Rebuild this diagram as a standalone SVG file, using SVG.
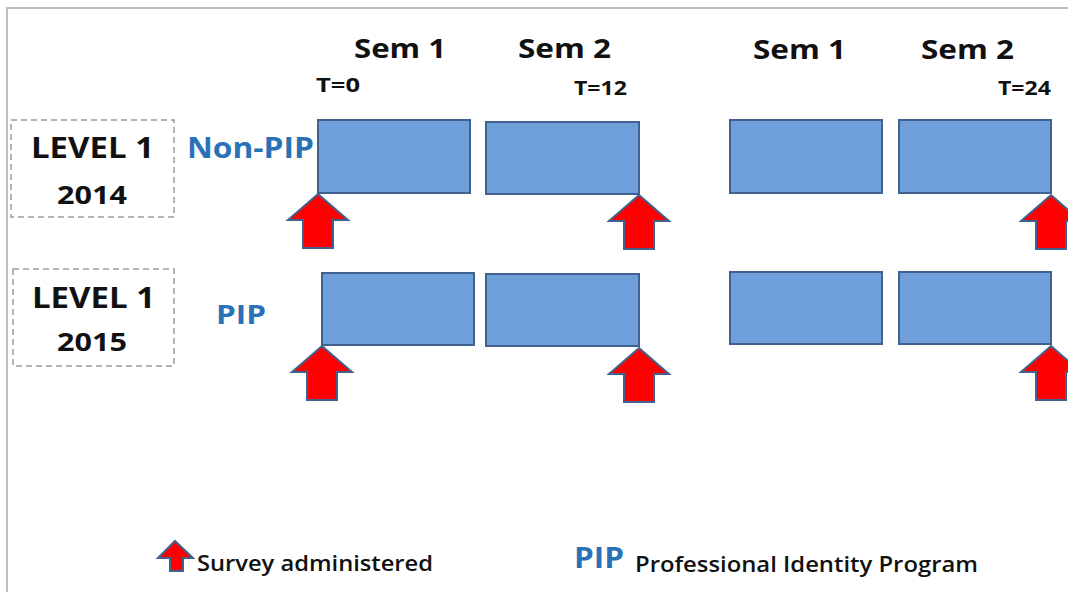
<svg xmlns="http://www.w3.org/2000/svg" xmlns:xlink="http://www.w3.org/1999/xlink" width="1068" height="592" viewBox="0 0 1068 592">
<style>
.sem{fill:#6e9fda;stroke:#41628f;stroke-width:2}
.arr{fill:#ff0000;stroke:#41628f;stroke-width:2;stroke-linejoin:miter}
.dash{fill:none;stroke:#9a9a9a;stroke-width:1.5;stroke-dasharray:6 4}
.t{font-family:"Open Sans","Liberation Sans",sans-serif;font-weight:bold;fill:#111}
.l{font-family:"Open Sans","Liberation Sans",sans-serif;font-weight:600;fill:#111}
.b{font-family:"Open Sans","Liberation Sans",sans-serif;font-weight:bold;fill:#2a72b8}
</style>
<defs>
<path id="up" d="M0,0 L30,26 L15,26 L15,54 L-15,54 L-15,26 L-30,26 Z"/>
</defs>
<rect x="0" y="0" width="1068" height="592" fill="#ffffff"/>
<path d="M7,592 L7,8 L1068,8" fill="none" stroke="#bdbdbd" stroke-width="2"/>

<g id="header">
<text class="t" x="354" y="58" font-size="27" textLength="92" lengthAdjust="spacingAndGlyphs">Sem 1</text>
<text class="t" x="518" y="58" font-size="27" textLength="93" lengthAdjust="spacingAndGlyphs">Sem 2</text>
<text class="t" x="753" y="59" font-size="27" textLength="93" lengthAdjust="spacingAndGlyphs">Sem 1</text>
<text class="t" x="921" y="59" font-size="27" textLength="93" lengthAdjust="spacingAndGlyphs">Sem 2</text>
<text class="t" x="316" y="92" font-size="19" textLength="44" lengthAdjust="spacingAndGlyphs">T=0</text>
<text class="t" x="574" y="95" font-size="19" textLength="53" lengthAdjust="spacingAndGlyphs">T=12</text>
<text class="t" x="998" y="95" font-size="19" textLength="53" lengthAdjust="spacingAndGlyphs">T=24</text>
</g>

<g id="level2014">
<rect class="dash" x="11" y="120" width="163" height="97"/>
<text class="t" x="31" y="158" font-size="28" textLength="123" lengthAdjust="spacingAndGlyphs">LEVEL 1</text>
<text class="t" x="57" y="204" font-size="25" textLength="70" lengthAdjust="spacingAndGlyphs">2014</text>
</g>
<g id="level2015">
<rect class="dash" x="13" y="269" width="161" height="97"/>
<text class="t" x="32" y="308" font-size="28" textLength="123" lengthAdjust="spacingAndGlyphs">LEVEL 1</text>
<text class="t" x="57" y="351" font-size="25" textLength="70" lengthAdjust="spacingAndGlyphs">2015</text>
</g>

<g id="label-nonpip"><text class="b" x="187" y="158" font-size="29" textLength="127" lengthAdjust="spacingAndGlyphs">Non-PIP</text></g>
<g id="label-pip"><text class="b" x="216" y="324" font-size="27" textLength="50" lengthAdjust="spacingAndGlyphs">PIP</text></g>

<g id="row1">
<rect id="r1s1" class="sem" x="318" y="120" width="152" height="73"/>
<rect id="r1s2" class="sem" x="486" y="122" width="153" height="72"/>
<rect id="r1s3" class="sem" x="730" y="120" width="152" height="73"/>
<rect id="r1s4" class="sem" x="899" y="120" width="152" height="73"/>
</g>
<g id="row2">
<rect id="r2s1" class="sem" x="322" y="273" width="152" height="72"/>
<rect id="r2s2" class="sem" x="486" y="274" width="153" height="72"/>
<rect id="r2s3" class="sem" x="730" y="272" width="152" height="72"/>
<rect id="r2s4" class="sem" x="899" y="272" width="152" height="72"/>
</g>

<g id="connectors">
<use href="#up" xlink:href="#up" class="arr" transform="translate(318,194)"/>
<use href="#up" xlink:href="#up" class="arr" transform="translate(639,195)"/>
<use href="#up" xlink:href="#up" class="arr" transform="translate(1051,195)"/>
<use href="#up" xlink:href="#up" class="arr" transform="translate(322,346)"/>
<use href="#up" xlink:href="#up" class="arr" transform="translate(639,348)"/>
<use href="#up" xlink:href="#up" class="arr" transform="translate(1051,346)"/>
</g>

<g id="legend">
<path class="arr" d="M175,541 L193,558 L183,558 L183,571 L170,571 L170,558 L158,558 Z" stroke-width="1.5"/>
<text class="l" x="197" y="571" font-size="22" textLength="236" lengthAdjust="spacingAndGlyphs">Survey administered</text>
<text class="b" x="574" y="568" font-size="29" textLength="50" lengthAdjust="spacingAndGlyphs" font-weight="600">PIP</text>
<text class="l" x="635" y="572" font-size="22" textLength="343" lengthAdjust="spacingAndGlyphs">Professional Identity Program</text>
</g>
</svg>
